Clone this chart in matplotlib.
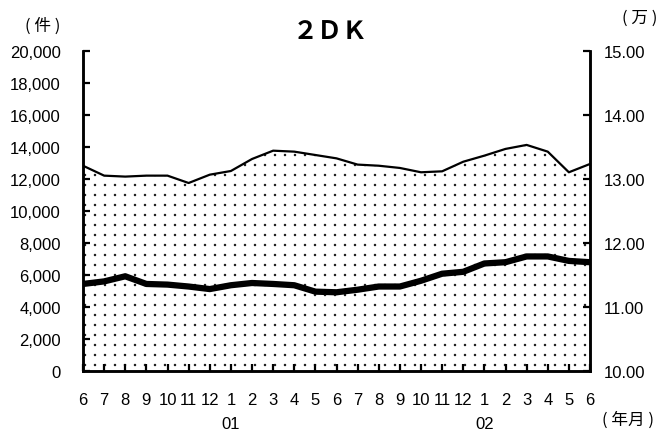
import matplotlib.pyplot as plt
import matplotlib.hatch as mhatch
from matplotlib.path import Path
from matplotlib.ticker import FuncFormatter

plt.rcParams['font.family'] = ['Liberation Sans', 'Noto Sans CJK JP', 'DejaVu Sans']
plt.rcParams['hatch.linewidth'] = 0.6

# 2000年6月 ～ 2002年6月
months = [6, 7, 8, 9, 10, 11, 12, 1, 2, 3, 4, 5, 6, 7, 8, 9, 10, 11, 12, 1, 2, 3, 4, 5, 6]
years = {7: '01', 19: '02'}

# 件数（左軸）
counts = [12830, 12210, 12150, 12210, 12210, 11750, 12270, 12500, 13250, 13770, 13710, 13500,
          13290, 12900, 12830, 12690, 12420, 12480, 13080, 13460, 13880, 14130, 13710, 12420, 12940]
# 価格（万, 右軸）
prices = [11.36, 11.40, 11.48, 11.36, 11.35, 11.32, 11.28, 11.34, 11.375, 11.36, 11.34, 11.24,
          11.23, 11.27, 11.32, 11.32, 11.41, 11.52, 11.55, 11.68, 11.70, 11.79, 11.79, 11.72, 11.70]


# 点の網かけを正方格子にする（'.' のハッチを置き換え）
class GridDots(mhatch.HatchPatternBase):
    def __init__(self, hatch, density):
        self.n = 10 if '.' in hatch else 0
        self.shape = Path.unit_circle()
        self.num_vertices = self.n ** 2 * len(self.shape.vertices)

    def set_vertices_and_codes(self, vertices, codes):
        verts = self.shape.vertices * 0.008
        nv = len(verts)
        step = 1 / self.n
        k = 0
        for i in range(self.n):
            for j in range(self.n):
                vertices[k:k + nv] = verts + [(i + 0.5) * step, (j + 0.5) * step]
                codes[k:k + nv] = self.shape.codes
                k += nv


mhatch._hatch_types = [t for t in mhatch._hatch_types if t is not mhatch.SmallFilledCircles]
mhatch._hatch_types.append(GridDots)

x = list(range(len(months)))
W, H = 664, 435

fig = plt.figure(figsize=(W / 100, H / 100), dpi=100)
ax = fig.add_axes([83 / W, 1 - 372 / H, (590 - 83) / W, (372 - 52) / H])

ax.fill_between(x, 0, counts, facecolor='white', edgecolor='#111111', hatch='.', linewidth=0)
ax.plot(x, counts, color='black', linewidth=1.6)
ax.set_xlim(0, len(x) - 1)
ax.set_ylim(0, 20000)
ax.set_yticks(range(0, 20001, 2000))
ax.yaxis.set_major_formatter(FuncFormatter(lambda v, p: f'{int(v):,}'))
ax.set_xticks(x)
ax.set_xticklabels(months)

ax2 = ax.twinx()
ax2.plot(x, prices, color='black', linewidth=4.5, solid_capstyle='round')
ax2.set_ylim(10, 15)
ax2.set_yticks([10, 11, 12, 13, 14, 15])
ax2.yaxis.set_major_formatter(FuncFormatter(lambda v, p: f'{v:.2f}'))

for a in (ax, ax2):
    a.spines['top'].set_visible(False)
    for s in ('left', 'right', 'bottom'):
        a.spines[s].set_linewidth(1.8)
    a.tick_params(direction='in', length=5, width=1.6, labelsize=12)
ax.tick_params(axis='y', pad=16)
ax.tick_params(axis='x', pad=15)
ax2.tick_params(axis='y', pad=10)

for i, yl in years.items():
    ax.text(i, -0.165, yl, transform=ax.get_xaxis_transform(), ha='center', va='center', fontsize=12)

jp = ['Noto Sans CJK JP']
fig.text(628 / W, 1 - 420 / H, '( 年月 )', ha='center', va='center', fontsize=12, family=jp)
fig.text(43 / W, 1 - 26 / H, '( 件 )', ha='center', va='center', fontsize=12, family=jp)
fig.text(640 / W, 1 - 18 / H, '( 万 )', ha='center', va='center', fontsize=12, family=jp)
fig.text(330 / W, 1 - 32 / H, '２ＤＫ', ha='center', va='center', fontsize=18,
         family=jp, weight='bold')

fig.savefig('out.png', dpi=100)
